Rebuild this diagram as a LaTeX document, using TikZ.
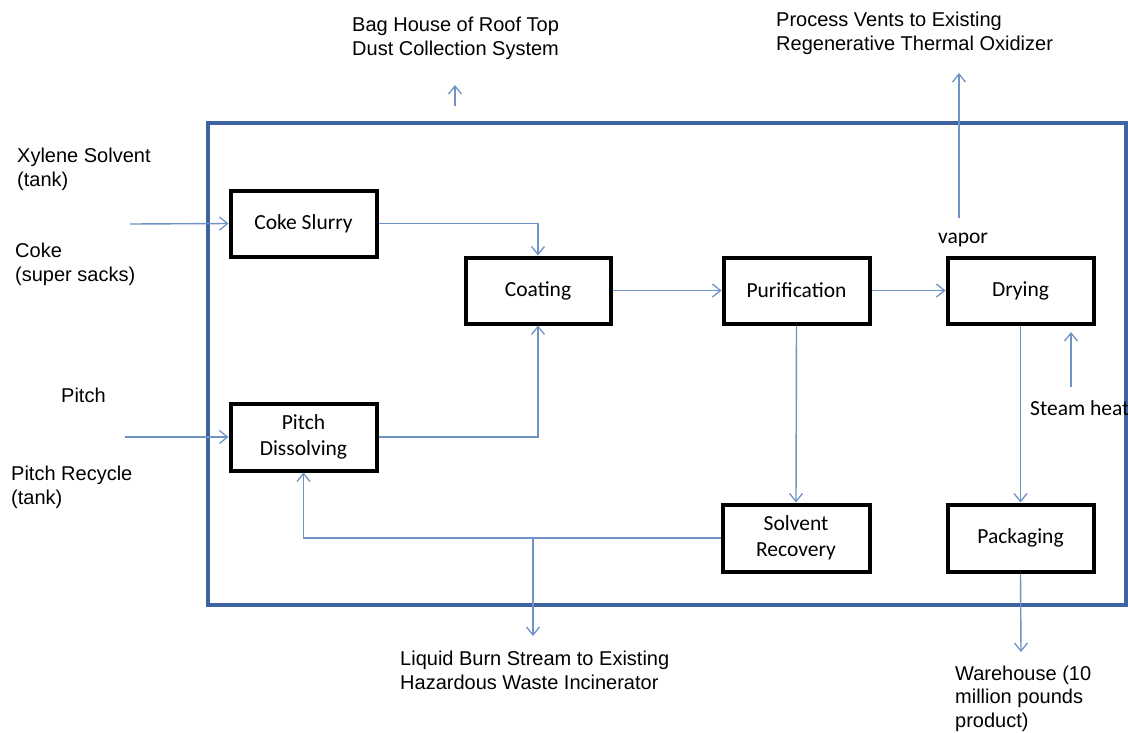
\documentclass[tikz,border=0pt]{standalone}
\usepackage{fontspec}
\setmainfont{Liberation Sans}
\newfontfamily\boxfont{Carlito}
\usetikzlibrary{arrows.meta}
\definecolor{framecol}{HTML}{3D64A0}
\definecolor{flowcol}{HTML}{6F93C4}
\tikzset{
  x=1pt, y=-1pt,
  stagebox/.style={draw=black, line width=4pt, fill=white, inner sep=0pt,
    align=center, font=\boxfont\fontsize{21.5}{26}\selectfont},
  flow/.style={draw=flowcol, line width=1.4pt},
  flowarr/.style={flow, -{Straight Barb[length=8pt,width=13pt,line width=1.3pt]}},
  outlabel/.style={inner sep=0pt, align=left, anchor=base west,
    font=\fontsize{20}{23.5}\selectfont},
  smalllabel/.style={inner sep=0pt, font=\boxfont\fontsize{21.5}{26}\selectfont},
}
\begin{document}
\begin{tikzpicture}
\useasboundingbox (0,0) rectangle (1128,732);
\fill[white] (0,0) rectangle (1128,732);

% plant frame
\draw[framecol, line width=4pt] (208,123) rectangle (1126,605);

% stage boxes
\node[stagebox, minimum width=146pt, minimum height=66pt] (cs)   at (303.5,223.5) {Coke Slurry};
\node[stagebox, minimum width=146pt, minimum height=67pt] (pd)   at (303.5,437)   {Pitch\\Dissolving};
\node[stagebox, minimum width=145pt, minimum height=66pt] (coat) at (538,290.5)   {Coating};
\node[stagebox, minimum width=146pt, minimum height=66pt] (pur)  at (796.5,290.5) {Purification};
\node[stagebox, minimum width=146pt, minimum height=66pt] (dry)  at (1020.5,290.5){Drying};
\node[stagebox, minimum width=147pt, minimum height=67pt] (sr)   at (796,538)     {Solvent\\Recovery};
\node[stagebox, minimum width=146pt, minimum height=67pt] (pack) at (1020.5,538)  {Packaging};

% outside labels (base = baseline of last line)
\node[outlabel] (bag)   at (352,55)  {Bag House of Roof Top\\Dust Collection System};
\node[outlabel] (vents) at (776,50)  {Process Vents to Existing\\Regenerative Thermal Oxidizer};
\node[outlabel] (xyl)   at (17,186)  {Xylene Solvent\\(tank)};
\node[outlabel] (coke)  at (15,281)  {Coke\\(super sacks)};
\node[outlabel] (pitch) at (61,402)  {Pitch};
\node[outlabel] (prec)  at (11,504)  {Pitch Recycle\\(tank)};
\node[outlabel] (burn)  at (400,689) {Liquid Burn Stream to Existing\\Hazardous Waste Incinerator};
\node[outlabel] (ware)  at (955,727) {Warehouse (10\\million pounds\\product)};
\node[smalllabel] (vapor) at (963,240) {vapor};
\node[smalllabel, anchor=west] (steam) at (1030,408) {Steam heat};

% free ends
\coordinate (cokein)  at (130,224);
\coordinate (pitchin) at (125,437);
\coordinate (bagS)    at (455,106);
\coordinate (bagE)    at (455,85);
\coordinate (vapS)    at (959,218);
\coordinate (vapE)    at (959,73);
\coordinate (stmS)    at (1071,387);
\coordinate (stmE)    at (1071,332);
\coordinate (burnE)   at (533,636);
\coordinate (wareE)   at (1021,652);
\coordinate (br)      at (533,538);

% connectors
\draw[flowarr] (cokein) -- (cs.west);
\draw[flowarr] (pitchin) -- (pd.west);
\draw[flowarr] (cs.east) -| (coat.north);
\draw[flowarr] (pd.east) -| (coat.south);
\draw[flowarr] (coat.east) -- (pur.west);
\draw[flowarr] (pur.east) -- (dry.west);
\draw[flowarr] (pur.south) -- (sr.north);
\draw[flowarr] (dry.south) -- (pack.north);
\draw[flowarr] (sr.west) -| (pd.south);
\draw[flowarr] (br) -- (burnE);
\draw[flowarr] (pack.south) -- (wareE);
\draw[flowarr] (vapS) -- (vapE);
\draw[flowarr] (stmS) -- (stmE);
\draw[flowarr] (bagS) -- (bagE);
\end{tikzpicture}
\end{document}
